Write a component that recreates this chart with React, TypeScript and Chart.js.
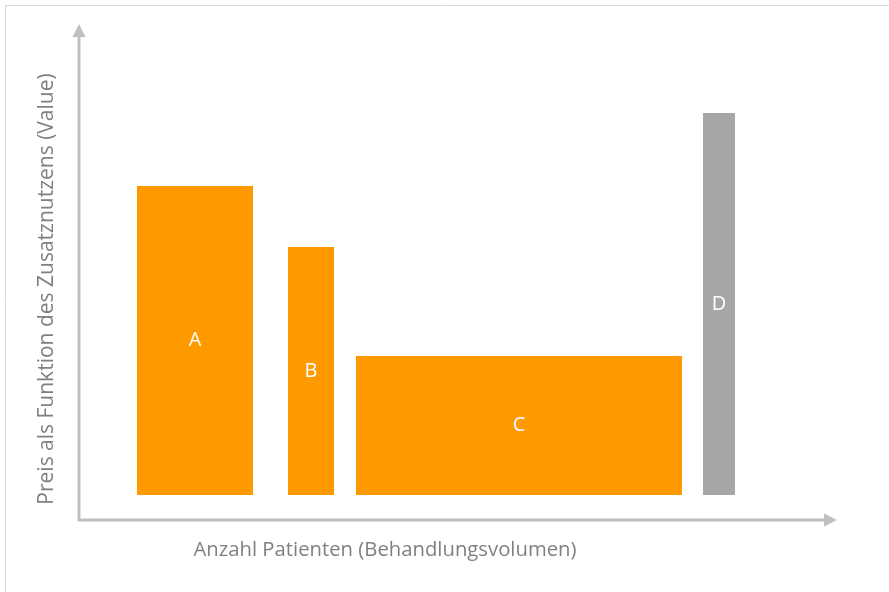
import React, { useEffect, useRef } from "react";
import { Chart, registerables } from "chart.js";

Chart.register(...registerables);

const labels = ["A", "B", "C", "D"];
const xStart = [7.65, 27.57, 36.54, 82.32];
const xEnd = [22.96, 33.64, 79.55, 86.54];
const heights = [67.34, 55.04, 33.06, 82.06];
const baseValue = 5.04;
const colors = ["#FF9900", "#FF9900", "#FF9900", "#A6A6A6"];
const xTitle = "Anzahl Patienten (Behandlungsvolumen)";
const yTitle = "Preis als Funktion des Zusatznutzens (Value)";

const FONT = "'Open Sans', Lato, sans-serif";

const decorPlugin = {
  id: "decor",
  beforeDraw(chart: any) {
    const ctx = chart.ctx;
    ctx.save();
    ctx.fillStyle = "#ffffff";
    ctx.fillRect(0, 0, chart.width, chart.height);
    ctx.strokeStyle = "#D9D9D9";
    ctx.lineWidth = 1;
    ctx.beginPath();
    ctx.moveTo(5.5, chart.height);
    ctx.lineTo(5.5, 5.5);
    ctx.lineTo(chart.width, 5.5);
    ctx.stroke();
    ctx.restore();
  },
  afterDatasetsDraw(chart: any) {
    const ctx = chart.ctx;
    const xs = chart.scales.x;
    const ys = chart.scales.y;
    const a = chart.chartArea;
    ctx.save();
    ctx.strokeStyle = "#BFBFBF";
    ctx.fillStyle = "#BFBFBF";
    ctx.lineWidth = 3;
    ctx.beginPath();
    ctx.moveTo(a.left, a.bottom);
    ctx.lineTo(a.left, a.top + 12);
    ctx.moveTo(a.left - 1.5, a.bottom);
    ctx.lineTo(a.right - 12, a.bottom);
    ctx.stroke();
    ctx.beginPath();
    ctx.moveTo(a.left, a.top);
    ctx.lineTo(a.left - 6.5, a.top + 13);
    ctx.lineTo(a.left + 6.5, a.top + 13);
    ctx.closePath();
    ctx.fill();
    ctx.beginPath();
    ctx.moveTo(a.right, a.bottom);
    ctx.lineTo(a.right - 13, a.bottom - 6.5);
    ctx.lineTo(a.right - 13, a.bottom + 6.5);
    ctx.closePath();
    ctx.fill();
    ctx.fillStyle = "#ffffff";
    ctx.font = `20px ${FONT}`;
    ctx.textAlign = "center";
    ctx.textBaseline = "middle";
    labels.forEach((l, i) => {
      const cx = xs.getPixelForValue((xStart[i] + xEnd[i]) / 2);
      const cy = ys.getPixelForValue((baseValue + heights[i]) / 2);
      ctx.fillText(l, cx, cy);
    });
    ctx.fillStyle = "#808080";
    ctx.font = `20.3px ${FONT}`;
    ctx.fillText(xTitle, 385, 550);
    ctx.translate(47, 289);
    ctx.rotate(-Math.PI / 2);
    ctx.font = `21px ${FONT}`;
    ctx.fillText(yTitle, 0, 0);
    ctx.restore();
  },
};

export default function App() {
  const ref = useRef<HTMLCanvasElement>(null);
  useEffect(() => {
    if (!ref.current) return;
    const datasets = labels.map((l, i) => ({
      label: l,
      data: [
        { x: xStart[i], y: baseValue },
        { x: xStart[i], y: heights[i] },
        { x: xEnd[i], y: heights[i] },
        { x: xEnd[i], y: baseValue },
      ],
      showLine: true,
      borderWidth: 0,
      borderColor: colors[i],
      backgroundColor: colors[i],
      pointRadius: 0,
      tension: 0,
      fill: { value: baseValue },
    }));
    const chart = new Chart(ref.current, {
      type: "scatter",
      data: { datasets },
      options: {
        animation: false,
        responsive: false,
        events: [],
        layout: { padding: { left: 79, right: 52, top: 24, bottom: 72 } },
        plugins: { legend: { display: false }, tooltip: { enabled: false }, title: { display: false } },
        scales: {
          x: { type: "linear", min: 0, max: 100, display: false },
          y: { type: "linear", min: 0, max: 100, display: false },
        },
      },
      plugins: [decorPlugin],
    });
    return () => chart.destroy();
  }, []);
  return (
    <div style={{ position: "fixed", left: 0, top: 0, width: 889, height: 592, background: "#fff" }}>
      <canvas ref={ref} width={889} height={592} style={{ display: "block" }} />
    </div>
  );
}
